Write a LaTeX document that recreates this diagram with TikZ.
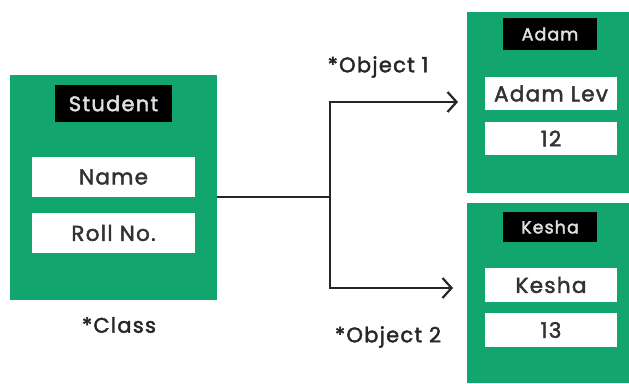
\documentclass[tikz,border=0pt]{standalone}
\usepackage{fontspec}
\setmainfont{Poppins}
\newfontfamily\spaced{Poppins}[LetterSpace=6,FakeBold=2]
\usetikzlibrary{arrows.meta}
\definecolor{cgreen}{RGB}{18,166,110}
\definecolor{ctext}{RGB}{50,50,50}
\begin{document}
\begin{tikzpicture}[x=1pt,y=-1pt,
  panel/.style={fill=cgreen,draw=none,inner sep=0pt},
  title/.style={fill=black,text=white!88!black,inner sep=0pt,font=\spaced\fontsize{17.5}{19}\selectfont},
  field/.style={fill=white,text=ctext,inner sep=0pt,font=\spaced\fontsize{21.5}{23}\selectfont},
  lbl/.style={text=black!85,inner sep=0pt,font=\spaced\fontsize{21}{23}\selectfont},
  conn/.style={line width=2.2pt,black!85},
  tip/.style={-{Straight Barb[length=9pt,width=20pt,line width=2.2pt]}}
]
\useasboundingbox (0,0) rectangle (629,383);
\fill[white] (0,0) rectangle (629,383);
% class panel
\node[panel,minimum width=207pt,minimum height=225pt] (cls) at (113.5,187.5) {};
\node[title,minimum width=117pt,minimum height=37pt,font=\spaced\fontsize{21}{23}\selectfont] (stu) at (113.5,103.5) {Student};
\node[field,minimum width=163pt,minimum height=40pt] (name) at (113.5,177) {Name};
\node[field,minimum width=163pt,minimum height=40pt] (roll) at (113.5,233) {Roll No.};
\node[lbl] (clslbl) at (119,325) {*Class};
% object 1
\node[panel,minimum width=162pt,minimum height=181pt] (o1) at (548,102.5) {};
\node[title,minimum width=94pt,minimum height=32pt] (adam) at (550,34) {Adam};
\node[field,minimum width=132pt,minimum height=33pt] (adamlev) at (551,93.5) {Adam Lev};
\node[field,minimum width=132pt,minimum height=33pt] (n12) at (551,138.5) {12};
% object 2
\node[panel,minimum width=162pt,minimum height=180pt] (o2) at (548,293) {};
\node[title,minimum width=94pt,minimum height=30pt] (kesha) at (550,227) {Kesha};
\node[field,minimum width=132pt,minimum height=34pt] (keshaf) at (551,285) {Kesha};
\node[field,minimum width=132pt,minimum height=34pt] (n13) at (551,330) {13};
% labels
\node[lbl] (ob1) at (378,67) {*Object 1};
\node[lbl] (ob2) at (388,337) {*Object 2};
% connectors
\coordinate (s) at (217,197);
\coordinate (j) at (330,197);
\coordinate (a1) at (458,102);
\coordinate (a2) at (453,288);
\draw[conn] (s) -- (j);
\draw[conn,tip] (j) |- (a1);
\draw[conn,tip] (j) |- (a2);
\end{tikzpicture}
\end{document}
